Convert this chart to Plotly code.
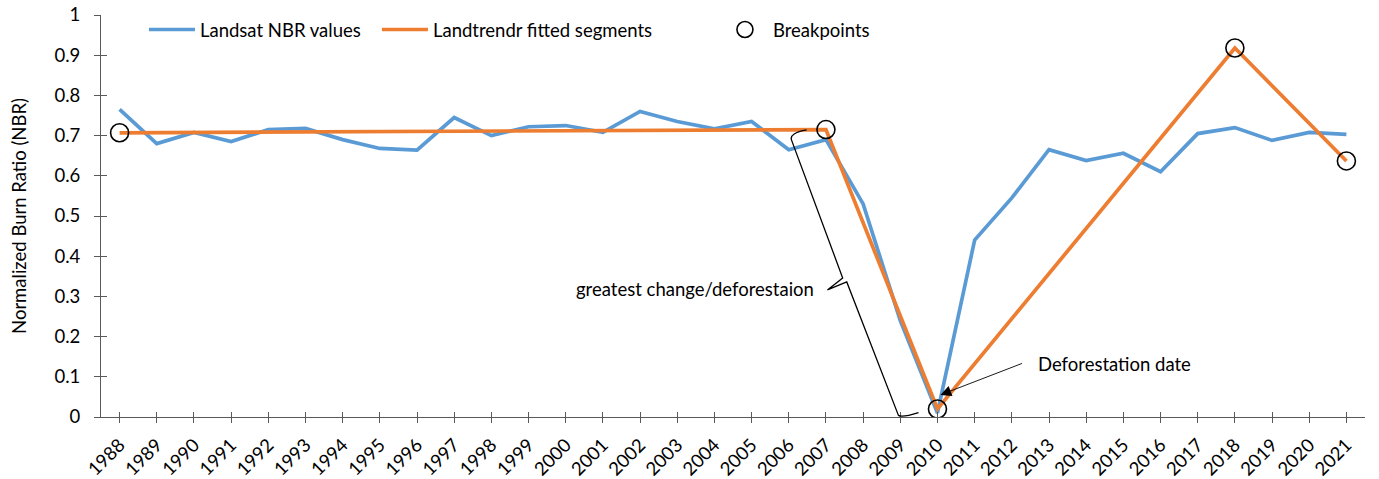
import plotly.graph_objects as go

years = list(range(1988, 2022))
landsat_nbr = [0.765, 0.680, 0.708, 0.685, 0.715, 0.718, 0.690, 0.668, 0.664, 0.745,
               0.700, 0.722, 0.725, 0.708, 0.760, 0.735, 0.717, 0.735, 0.665, 0.690,
               0.530, 0.240, 0.010, 0.440, 0.545, 0.665, 0.638, 0.656, 0.610, 0.705,
               0.720, 0.688, 0.708, 0.703]
break_years = [1988, 2007, 2010, 2018, 2021]
fitted_nbr = [0.707, 0.715, 0.020, 0.918, 0.637]

y_ticks = [0, 0.1, 0.2, 0.3, 0.4, 0.5, 0.6, 0.7, 0.8, 0.9, 1]
y_ticktext = ["0", "0.1", "0.2", "0.3", "0.4", "0.5", "0.6", "0.7", "0.8", "0.9", "1"]

FONT = "Lato"
FS = 18.5
AX = "#595959"

fig = go.Figure()
fig.add_trace(go.Scatter(x=years, y=landsat_nbr, mode="lines", name="Landsat NBR values",
                         line=dict(color="#5B9BD5", width=3.7), legend="legend"))
fig.add_trace(go.Scatter(x=break_years, y=fitted_nbr, mode="lines", name="Landtrendr fitted segments",
                         line=dict(color="#ED7D31", width=3.7), legend="legend2"))
fig.add_trace(go.Scatter(x=break_years, y=fitted_nbr, mode="markers", name="Breakpoints",
                         marker=dict(symbol="circle-open", size=18, color="black",
                                     line=dict(color="black", width=1.6)),
                         legend="legend3"))
# invisible trace to activate inside-tick overlay axes
fig.add_trace(go.Scatter(x=[years[0]], y=[0], xaxis="x2", yaxis="y2", mode="markers",
                         marker=dict(opacity=0), showlegend=False, hoverinfo="skip"))

xr = [years[0] - 0.5, years[-1] + 0.5]
leg_common = dict(yref="paper", xref="paper", y=0.9627, xanchor="left", yanchor="middle",
                  orientation="h", bgcolor="rgba(0,0,0,0)", font=dict(size=FS), itemwidth=46)
fig.update_layout(
    width=1379, height=479, autosize=False,
    margin=dict(l=101, r=14, t=15, b=62, autoexpand=False),
    paper_bgcolor="white", plot_bgcolor="white",
    font=dict(family=FONT, size=FS, color="black"),
    xaxis=dict(range=xr, tickmode="array", tickvals=years, ticktext=[str(y) for y in years],
               tickangle=-45, ticks="outside", ticklen=5, tickcolor=AX, tickwidth=1,
               showline=True, linecolor=AX, linewidth=1, showgrid=False, zeroline=False,
               tickfont=dict(size=FS), ticklabelstandoff=4, automargin=False),
    yaxis=dict(range=[0, 1], tickmode="array", tickvals=y_ticks, ticktext=y_ticktext,
               ticks="outside", ticklen=6, tickcolor=AX, tickwidth=1,
               showline=True, linecolor=AX, linewidth=1, showgrid=False, zeroline=False,
               tickfont=dict(size=FS), ticklabelstandoff=10, automargin=True,
               title=dict(text="Normalized Burn Ratio (NBR)", font=dict(size=FS), standoff=22)),
    xaxis2=dict(overlaying="x", anchor="y2", side="bottom", range=xr, tickmode="array",
                tickvals=years, ticks="inside", ticklen=5, tickcolor=AX, showticklabels=False,
                showline=False, showgrid=False, zeroline=False),
    yaxis2=dict(overlaying="y", anchor="x2", side="left", range=[0, 1], tickmode="array",
                tickvals=y_ticks, ticks="inside", ticklen=6, tickcolor=AX, showticklabels=False,
                showline=False, showgrid=False, zeroline=False),
    legend=dict(x=0.034, **leg_common),
    legend2=dict(x=0.2183, **leg_common),
    legend3=dict(x=0.4873, **leg_common),
    showlegend=True,
)

# brace along the greatest-change segment (data coordinates)
brace = ("M 2006.48,0.714 Q 2006.02,0.706 2006.07,0.690 "
         "L 2007.45,0.346 L 2007.04,0.316 L 2007.56,0.336 "
         "L 2008.95,0.004 Q 2009.05,-0.002 2009.49,0.011")
fig.add_shape(type="path", path=brace, xref="x", yref="y",
              line=dict(color="black", width=1.3))

fig.add_annotation(x=2006.72, y=0.318, xref="x", yref="y", text="greatest change/deforestaion",
                   showarrow=False, xanchor="right", yanchor="middle", font=dict(size=FS))
fig.add_annotation(x=2010.08, y=0.055, xref="x", yref="y", text="", showarrow=True,
                   ax=83, ay=-32, arrowhead=2, arrowsize=2.4, arrowwidth=0.9, arrowcolor="black")
fig.add_annotation(x=2012.64, y=0.132, xref="x", yref="y", text="Deforestation date",
                   showarrow=False, xanchor="left", yanchor="middle", font=dict(size=FS))

fig.write_html("out.html", config={"displayModeBar": False},
               post_script="document.body.style.margin='0';")
